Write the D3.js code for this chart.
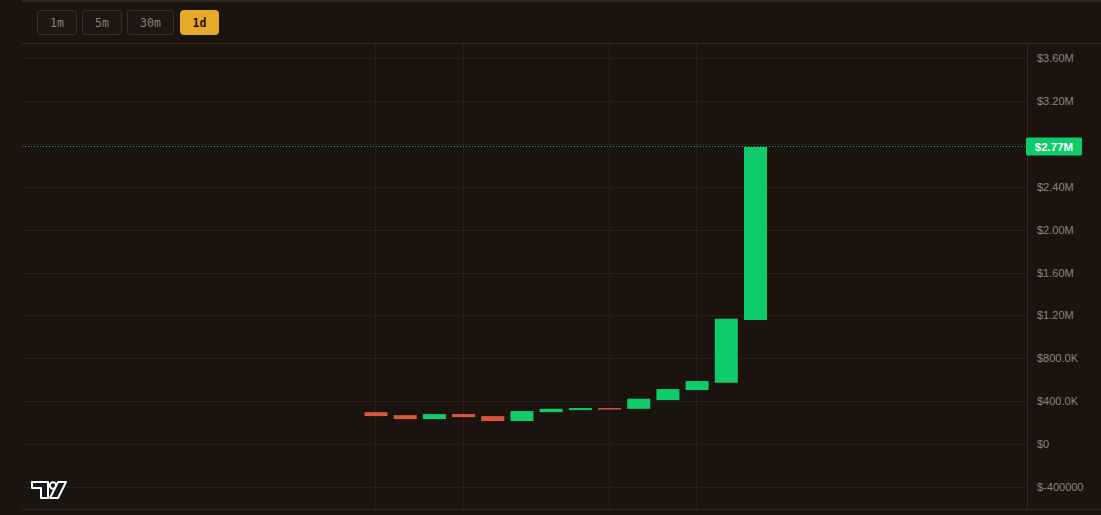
<!DOCTYPE html>
<html><head><meta charset="utf-8">
<script src="https://cdn.jsdelivr.net/npm/d3@7"></script>
<style>
html,body{margin:0;padding:0;background:#1b140e;}
svg{display:block;}
</style></head>
<body>
<script>
// ---- data ----
const categories = ["D1","D2","D3","D4","D5","D6","D7","D8","D9","D10","D11","D12","D13","D14"];
const opens  = [298000, 270000, 233000, 280000, 261000, 215000, 298000, 317000, 336000, 329000, 410000, 504000, 572000, 1157000];
const closes = [261000, 233000, 280000, 252000, 215000, 308000, 329000, 336000, 326000, 423000, 513000, 588000, 1169000, 2770000];
const gridValues = [-400000, 0, 400000, 800000, 1200000, 1600000, 2000000, 2400000, 2800000, 3200000, 3600000];
const tickValues = [-400000, 0, 400000, 800000, 1200000, 1600000, 2000000, 2400000, 3200000, 3600000];
const tickLabels = ["$-400000", "$0", "$400.0K", "$800.0K", "$1.20M", "$1.60M", "$2.00M", "$2.40M", "$3.20M", "$3.60M"];
const verticalGridCats = ["D1","D4","D9","D12"];
const intervals = ["1m","5m","30m","1d"];
const activeInterval = "1d";
const lastPriceLabel = "$2.77M";

const W = 1101, H = 515;
const bg = "#1b140e";
const up = "#0ecb6b", down = "#d8573f";

const svg = d3.select("body").append("svg").attr("width", W).attr("height", H);
svg.append("rect").attr("width", W).attr("height", H).attr("fill", bg);

// frame lines
svg.append("line").attr("x1", 22).attr("x2", W).attr("y1", 1).attr("y2", 1).attr("stroke", "#3a2e26").attr("stroke-width", 1.5);
svg.append("line").attr("x1", 22).attr("x2", W).attr("y1", 43.5).attr("y2", 43.5).attr("stroke", "#32281f");
svg.append("line").attr("x1", 22).attr("x2", W).attr("y1", 509.5).attr("y2", 509.5).attr("stroke", "#32281f");

// buttons
const btnX = [37, 82, 127, 180], btnW = [39, 39, 46, 38];
intervals.forEach((t, i) => {
  const act = t === activeInterval;
  svg.append("rect").attr("x", btnX[i] + 0.5).attr("y", 10.5).attr("width", btnW[i]).attr("height", 24).attr("rx", 3)
    .attr("fill", act ? "#e6a92a" : "#1e1610").attr("stroke", act ? "#e6a92a" : "#3a2f27");
  svg.append("text").attr("x", btnX[i] + btnW[i] / 2 + 0.5).attr("y", 26.5).attr("text-anchor", "middle")
    .attr("font-family", "DejaVu Sans Mono, monospace").attr("font-size", 11.5).attr("font-weight", act ? "bold" : "normal")
    .attr("fill", act ? "#1b140e" : "#8a8077").text(t);
});

// scales
const x = d3.scalePoint().domain(categories).range([376, 755.5]);
const y = d3.scaleLinear().domain([-400000, 3600000]).range([487, 58]);
const plotL = 22, plotR = 1027.5;

// grid
const g = svg.append("g");
g.selectAll(".hg").data(gridValues).enter().append("line")
  .attr("x1", plotL).attr("x2", plotR).attr("y1", d => Math.round(y(d)) + 0.5).attr("y2", d => Math.round(y(d)) + 0.5)
  .attr("stroke", "#281f18").attr("stroke-width", 1);
g.selectAll(".vg").data(verticalGridCats).enter().append("line")
  .attr("x1", d => Math.round(x(d)) - 0.5).attr("x2", d => Math.round(x(d)) - 0.5).attr("y1", 44).attr("y2", 509)
  .attr("stroke", "#281f18").attr("stroke-width", 1);

// right axis separator
svg.append("line").attr("x1", plotR).attr("x2", plotR).attr("y1", 44).attr("y2", 509).attr("stroke", "#32281f");

// axis
const axis = d3.axisRight(y).tickValues(tickValues).tickSize(0).tickPadding(0)
  .tickFormat((d, i) => tickLabels[i]);
const ag = svg.append("g").attr("transform", `translate(1037,0)`).call(axis);
ag.select(".domain").remove();
ag.selectAll("text").attr("font-family", "Liberation Sans, Arial, sans-serif").attr("font-size", 11).attr("fill", "#8f8377");

// last price dotted line
const lastY = Math.round(y(closes[closes.length - 1])) - 0.5;
svg.append("line").attr("x1", plotL).attr("x2", plotR).attr("y1", lastY).attr("y2", lastY)
  .attr("stroke", "#13a558").attr("stroke-width", 1).attr("stroke-dasharray", "1,2");

// candles
const bw = 23;
const data = categories.map((c, i) => ({c, o: opens[i], cl: closes[i]}));
svg.append("g").selectAll("rect").data(data).enter().append("rect")
  .attr("x", d => x(d.c) - bw / 2)
  .attr("y", d => y(Math.max(d.o, d.cl)))
  .attr("width", bw)
  .attr("height", d => Math.max(1.5, Math.abs(y(d.o) - y(d.cl))))
  .attr("fill", d => d.cl >= d.o ? up : down);

// price label
const lbl = svg.append("g").attr("transform", `translate(1026,${lastY})`);
lbl.append("rect").attr("x", 0).attr("y", -9).attr("width", 56).attr("height", 18).attr("rx", 1.5).attr("fill", up);
lbl.append("text").attr("x", 28).attr("y", 4).attr("text-anchor", "middle")
  .attr("font-family", "Liberation Sans, Arial, sans-serif").attr("font-size", 11.5).attr("font-weight", "bold")
  .attr("fill", "#ffffff").text(lastPriceLabel);

// TV logo
const logo = svg.append("g").attr("transform", "translate(32,482)");
logo.append("path").attr("d", "M0,0 H16 V16 H9 V6 H0 Z").attr("fill", "#15181f").attr("stroke", "#ffffff").attr("stroke-width", 2).attr("stroke-linejoin", "round");
logo.append("circle").attr("cx", 21).attr("cy", 3.5).attr("r", 3.2).attr("fill", "#15181f").attr("stroke", "#ffffff").attr("stroke-width", 2);
logo.append("path").attr("d", "M26,0 H34 L26,16 H18 Z").attr("fill", "#15181f").attr("stroke", "#ffffff").attr("stroke-width", 2).attr("stroke-linejoin", "round");
</script>
</body></html>
